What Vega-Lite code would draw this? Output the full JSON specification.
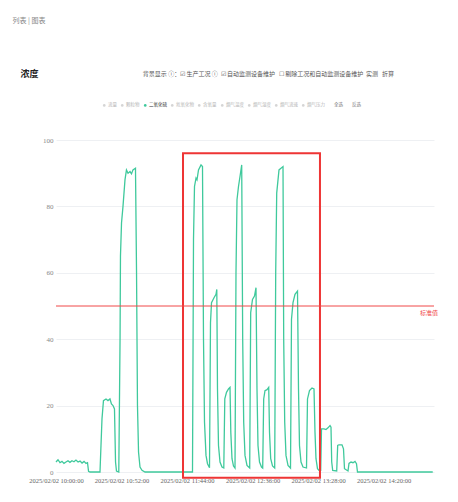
{
  "$schema": "https://vega.github.io/schema/vega-lite/v6.json",
  "width": 378,
  "height": 332,
  "autosize": {"type": "none"},
  "padding": {"left": 56, "top": 140, "right": 24, "bottom": 30},
  "background": "white",
  "config": {"view": {"stroke": null}, "font": "Noto Sans CJK SC"},
  "title": {
    "text": "背景显示 ⓘ：☑ 生产工况 ⓘ\u00a0\u00a0☑ 自动监测设备维护\u00a0\u00a0\u00a0☐ 剔除工况和自动监测设备维护\u00a0\u00a0实测\u00a0\u00a0\u00a0折算",
    "anchor": "end",
    "frame": "group",
    "fontSize": 6,
    "fontWeight": "normal",
    "color": "#555",
    "dx": -40,
    "offset": 50,
    "dy": 111
  },
  "datasets": {
    "series": [
      {"t": "2025-02-02T10:00:00", "v": 3.0, "s": "二氧化硫"},
      {"t": "2025-02-02T10:01:35", "v": 3.7, "s": "二氧化硫"},
      {"t": "2025-02-02T10:03:10", "v": 2.8, "s": "二氧化硫"},
      {"t": "2025-02-02T10:04:45", "v": 3.2, "s": "二氧化硫"},
      {"t": "2025-02-02T10:06:20", "v": 2.6, "s": "二氧化硫"},
      {"t": "2025-02-02T10:07:55", "v": 3.0, "s": "二氧化硫"},
      {"t": "2025-02-02T10:09:30", "v": 3.4, "s": "二氧化硫"},
      {"t": "2025-02-02T10:11:05", "v": 2.9, "s": "二氧化硫"},
      {"t": "2025-02-02T10:12:40", "v": 3.4, "s": "二氧化硫"},
      {"t": "2025-02-02T10:14:15", "v": 3.1, "s": "二氧化硫"},
      {"t": "2025-02-02T10:15:50", "v": 3.6, "s": "二氧化硫"},
      {"t": "2025-02-02T10:17:30", "v": 3.0, "s": "二氧化硫"},
      {"t": "2025-02-02T10:19:05", "v": 3.3, "s": "二氧化硫"},
      {"t": "2025-02-02T10:20:40", "v": 2.7, "s": "二氧化硫"},
      {"t": "2025-02-02T10:22:15", "v": 3.2, "s": "二氧化硫"},
      {"t": "2025-02-02T10:23:50", "v": 2.6, "s": "二氧化硫"},
      {"t": "2025-02-02T10:25:00", "v": 2.8, "s": "二氧化硫"},
      {"t": "2025-02-02T10:25:50", "v": 0.2, "s": "二氧化硫"},
      {"t": "2025-02-02T10:27:00", "v": 0, "s": "二氧化硫"},
      {"t": "2025-02-02T10:34:55", "v": 0, "s": "二氧化硫"},
      {"t": "2025-02-02T10:36:30", "v": 16, "s": "二氧化硫"},
      {"t": "2025-02-02T10:37:40", "v": 21.5, "s": "二氧化硫"},
      {"t": "2025-02-02T10:39:40", "v": 22, "s": "二氧化硫"},
      {"t": "2025-02-02T10:41:15", "v": 21.5, "s": "二氧化硫"},
      {"t": "2025-02-02T10:42:50", "v": 22, "s": "二氧化硫"},
      {"t": "2025-02-02T10:44:00", "v": 20.5, "s": "二氧化硫"},
      {"t": "2025-02-02T10:45:15", "v": 20, "s": "二氧化硫"},
      {"t": "2025-02-02T10:46:25", "v": 19, "s": "二氧化硫"},
      {"t": "2025-02-02T10:47:15", "v": 3, "s": "二氧化硫"},
      {"t": "2025-02-02T10:48:00", "v": 0.3, "s": "二氧化硫"},
      {"t": "2025-02-02T10:49:50", "v": 0, "s": "二氧化硫"},
      {"t": "2025-02-02T10:50:50", "v": 40, "s": "二氧化硫"},
      {"t": "2025-02-02T10:51:10", "v": 65, "s": "二氧化硫"},
      {"t": "2025-02-02T10:52:00", "v": 75, "s": "二氧化硫"},
      {"t": "2025-02-02T10:53:10", "v": 80, "s": "二氧化硫"},
      {"t": "2025-02-02T10:54:45", "v": 88, "s": "二氧化硫"},
      {"t": "2025-02-02T10:55:55", "v": 91, "s": "二氧化硫"},
      {"t": "2025-02-02T10:57:10", "v": 90, "s": "二氧化硫"},
      {"t": "2025-02-02T10:58:45", "v": 90.5, "s": "二氧化硫"},
      {"t": "2025-02-02T10:59:55", "v": 89.8, "s": "二氧化硫"},
      {"t": "2025-02-02T11:01:05", "v": 91, "s": "二氧化硫"},
      {"t": "2025-02-02T11:03:05", "v": 91.5, "s": "二氧化硫"},
      {"t": "2025-02-02T11:03:55", "v": 60, "s": "二氧化硫"},
      {"t": "2025-02-02T11:04:40", "v": 20, "s": "二氧化硫"},
      {"t": "2025-02-02T11:05:30", "v": 6, "s": "二氧化硫"},
      {"t": "2025-02-02T11:06:40", "v": 1.5, "s": "二氧化硫"},
      {"t": "2025-02-02T11:08:15", "v": 0.5, "s": "二氧化硫"},
      {"t": "2025-02-02T11:10:40", "v": 0, "s": "二氧化硫"},
      {"t": "2025-02-02T11:48:20", "v": 0, "s": "二氧化硫"},
      {"t": "2025-02-02T11:49:08", "v": 70, "s": "二氧化硫"},
      {"t": "2025-02-02T11:49:55", "v": 86, "s": "二氧化硫"},
      {"t": "2025-02-02T11:51:07", "v": 88.5, "s": "二氧化硫"},
      {"t": "2025-02-02T11:51:54", "v": 88, "s": "二氧化硫"},
      {"t": "2025-02-02T11:53:06", "v": 91, "s": "二氧化硫"},
      {"t": "2025-02-02T11:55:05", "v": 92.5, "s": "二氧化硫"},
      {"t": "2025-02-02T11:56:16", "v": 92, "s": "二氧化硫"},
      {"t": "2025-02-02T11:57:04", "v": 40, "s": "二氧化硫"},
      {"t": "2025-02-02T11:57:52", "v": 15, "s": "二氧化硫"},
      {"t": "2025-02-02T11:59:03", "v": 5, "s": "二氧化硫"},
      {"t": "2025-02-02T12:00:14", "v": 2.5, "s": "二氧化硫"},
      {"t": "2025-02-02T12:01:50", "v": 1.3, "s": "二氧化硫"},
      {"t": "2025-02-02T12:02:37", "v": 45, "s": "二氧化硫"},
      {"t": "2025-02-02T12:03:25", "v": 51, "s": "二氧化硫"},
      {"t": "2025-02-02T12:05:24", "v": 52.5, "s": "二氧化硫"},
      {"t": "2025-02-02T12:06:59", "v": 53.5, "s": "二氧化硫"},
      {"t": "2025-02-02T12:07:37", "v": 55, "s": "二氧化硫"},
      {"t": "2025-02-02T12:08:10", "v": 25, "s": "二氧化硫"},
      {"t": "2025-02-02T12:08:58", "v": 8, "s": "二氧化硫"},
      {"t": "2025-02-02T12:10:10", "v": 3, "s": "二氧化硫"},
      {"t": "2025-02-02T12:11:45", "v": 1.5, "s": "二氧化硫"},
      {"t": "2025-02-02T12:13:10", "v": 1.2, "s": "二氧化硫"},
      {"t": "2025-02-02T12:13:58", "v": 22, "s": "二氧化硫"},
      {"t": "2025-02-02T12:15:19", "v": 24, "s": "二氧化硫"},
      {"t": "2025-02-02T12:16:54", "v": 25, "s": "二氧化硫"},
      {"t": "2025-02-02T12:18:06", "v": 25.5, "s": "二氧化硫"},
      {"t": "2025-02-02T12:18:44", "v": 12, "s": "二氧化硫"},
      {"t": "2025-02-02T12:19:41", "v": 4, "s": "二氧化硫"},
      {"t": "2025-02-02T12:20:52", "v": 1.8, "s": "二氧化硫"},
      {"t": "2025-02-02T12:22:04", "v": 1.2, "s": "二氧化硫"},
      {"t": "2025-02-02T12:22:51", "v": 60, "s": "二氧化硫"},
      {"t": "2025-02-02T12:23:39", "v": 82, "s": "二氧化硫"},
      {"t": "2025-02-02T12:24:50", "v": 86, "s": "二氧化硫"},
      {"t": "2025-02-02T12:26:02", "v": 89, "s": "二氧化硫"},
      {"t": "2025-02-02T12:27:23", "v": 92.5, "s": "二氧化硫"},
      {"t": "2025-02-02T12:28:10", "v": 40, "s": "二氧化硫"},
      {"t": "2025-02-02T12:28:58", "v": 15, "s": "二氧化硫"},
      {"t": "2025-02-02T12:30:00", "v": 5, "s": "二氧化硫"},
      {"t": "2025-02-02T12:31:35", "v": 2, "s": "二氧化硫"},
      {"t": "2025-02-02T12:33:44", "v": 1.2, "s": "二氧化硫"},
      {"t": "2025-02-02T12:34:31", "v": 48, "s": "二氧化硫"},
      {"t": "2025-02-02T12:35:57", "v": 52, "s": "二氧化硫"},
      {"t": "2025-02-02T12:37:32", "v": 53, "s": "二氧化硫"},
      {"t": "2025-02-02T12:38:44", "v": 55.5, "s": "二氧化硫"},
      {"t": "2025-02-02T12:39:31", "v": 25, "s": "二氧化硫"},
      {"t": "2025-02-02T12:40:19", "v": 8, "s": "二氧化硫"},
      {"t": "2025-02-02T12:41:31", "v": 3, "s": "二氧化硫"},
      {"t": "2025-02-02T12:43:06", "v": 1.5, "s": "二氧化硫"},
      {"t": "2025-02-02T12:44:03", "v": 1.2, "s": "二氧化硫"},
      {"t": "2025-02-02T12:44:50", "v": 22, "s": "二氧化硫"},
      {"t": "2025-02-02T12:45:52", "v": 24.5, "s": "二氧化硫"},
      {"t": "2025-02-02T12:47:28", "v": 24.8, "s": "二氧化硫"},
      {"t": "2025-02-02T12:48:49", "v": 25.5, "s": "二氧化硫"},
      {"t": "2025-02-02T12:49:27", "v": 12, "s": "二氧化硫"},
      {"t": "2025-02-02T12:50:24", "v": 4, "s": "二氧化硫"},
      {"t": "2025-02-02T12:51:50", "v": 1.8, "s": "二氧化硫"},
      {"t": "2025-02-02T12:53:34", "v": 1.2, "s": "二氧化硫"},
      {"t": "2025-02-02T12:54:22", "v": 60, "s": "二氧化硫"},
      {"t": "2025-02-02T12:55:10", "v": 84, "s": "二氧化硫"},
      {"t": "2025-02-02T12:56:59", "v": 91, "s": "二氧化硫"},
      {"t": "2025-02-02T12:58:34", "v": 91.5, "s": "二氧化硫"},
      {"t": "2025-02-02T13:00:10", "v": 92, "s": "二氧化硫"},
      {"t": "2025-02-02T13:00:43", "v": 40, "s": "二氧化硫"},
      {"t": "2025-02-02T13:01:31", "v": 15, "s": "二氧化硫"},
      {"t": "2025-02-02T13:02:32", "v": 5, "s": "二氧化硫"},
      {"t": "2025-02-02T13:04:08", "v": 2, "s": "二氧化硫"},
      {"t": "2025-02-02T13:06:07", "v": 1.2, "s": "二氧化硫"},
      {"t": "2025-02-02T13:06:54", "v": 46, "s": "二氧化硫"},
      {"t": "2025-02-02T13:08:06", "v": 51, "s": "二氧化硫"},
      {"t": "2025-02-02T13:09:41", "v": 53.5, "s": "二氧化硫"},
      {"t": "2025-02-02T13:11:40", "v": 54.5, "s": "二氧化硫"},
      {"t": "2025-02-02T13:12:28", "v": 25, "s": "二氧化硫"},
      {"t": "2025-02-02T13:13:15", "v": 8, "s": "二氧化硫"},
      {"t": "2025-02-02T13:14:27", "v": 3, "s": "二氧化硫"},
      {"t": "2025-02-02T13:16:02", "v": 1.5, "s": "二氧化硫"},
      {"t": "2025-02-02T13:18:49", "v": 1.2, "s": "二氧化硫"},
      {"t": "2025-02-02T13:19:36", "v": 22, "s": "二氧化硫"},
      {"t": "2025-02-02T13:21:11", "v": 24.5, "s": "二氧化硫"},
      {"t": "2025-02-02T13:23:10", "v": 25.3, "s": "二氧化硫"},
      {"t": "2025-02-02T13:24:46", "v": 25, "s": "二氧化硫"},
      {"t": "2025-02-02T13:25:33", "v": 12, "s": "二氧化硫"},
      {"t": "2025-02-02T13:26:21", "v": 4, "s": "二氧化硫"},
      {"t": "2025-02-02T13:27:32", "v": 1, "s": "二氧化硫"},
      {"t": "2025-02-02T13:28:44", "v": 0.5, "s": "二氧化硫"},
      {"t": "2025-02-02T13:30:05", "v": 0.5, "s": "二氧化硫"},
      {"t": "2025-02-02T13:30:43", "v": 13, "s": "二氧化硫"},
      {"t": "2025-02-02T13:32:42", "v": 13, "s": "二氧化硫"},
      {"t": "2025-02-02T13:34:17", "v": 12.8, "s": "二氧化硫"},
      {"t": "2025-02-02T13:35:52", "v": 13.3, "s": "二氧化硫"},
      {"t": "2025-02-02T13:37:28", "v": 14, "s": "二氧化硫"},
      {"t": "2025-02-02T13:38:15", "v": 13.5, "s": "二氧化硫"},
      {"t": "2025-02-02T13:38:49", "v": 3, "s": "二氧化硫"},
      {"t": "2025-02-02T13:39:36", "v": 0.5, "s": "二氧化硫"},
      {"t": "2025-02-02T13:42:47", "v": 0.3, "s": "二氧化硫"},
      {"t": "2025-02-02T13:43:34", "v": 8, "s": "二氧化硫"},
      {"t": "2025-02-02T13:44:36", "v": 8.2, "s": "二氧化硫"},
      {"t": "2025-02-02T13:46:59", "v": 8.2, "s": "二氧化硫"},
      {"t": "2025-02-02T13:48:10", "v": 7, "s": "二氧化硫"},
      {"t": "2025-02-02T13:48:58", "v": 1, "s": "二氧化硫"},
      {"t": "2025-02-02T13:51:45", "v": 0.3, "s": "二氧化硫"},
      {"t": "2025-02-02T13:52:32", "v": 2.6, "s": "二氧化硫"},
      {"t": "2025-02-02T13:54:08", "v": 3, "s": "二氧化硫"},
      {"t": "2025-02-02T13:55:43", "v": 2.8, "s": "二氧化硫"},
      {"t": "2025-02-02T13:57:18", "v": 3.2, "s": "二氧化硫"},
      {"t": "2025-02-02T13:58:29", "v": 2.5, "s": "二氧化硫"},
      {"t": "2025-02-02T13:59:17", "v": 0, "s": "二氧化硫"},
      {"t": "2025-02-02T14:59:00", "v": 0, "s": "二氧化硫"}
    ],
    "box": [
      {"t1": "2025-02-02T11:40:48", "t2": "2025-02-02T13:29:30", "v1": 96, "v2": -1.7}
    ],
    "limit": [
      {"t": "2025-02-02T15:00:00", "v": 50, "label": "标准值"}
    ]
  },
  "layer": [
    {
      "data": {"name": "series"},
      "mark": {"type": "line", "strokeWidth": 1.3, "interpolate": "linear"},
      "encoding": {
        "x": {
          "field": "t",
          "type": "temporal",
          "scale": {
            "domain": [
              {"year": 2025, "month": 2, "date": 2, "hours": 10, "minutes": 0},
              {"year": 2025, "month": 2, "date": 2, "hours": 15, "minutes": 0}
            ]
          },
          "axis": {
            "values": [
              {"year": 2025, "month": 2, "date": 2, "hours": 10, "minutes": 0},
              {"year": 2025, "month": 2, "date": 2, "hours": 10, "minutes": 52},
              {"year": 2025, "month": 2, "date": 2, "hours": 11, "minutes": 44},
              {"year": 2025, "month": 2, "date": 2, "hours": 12, "minutes": 36},
              {"year": 2025, "month": 2, "date": 2, "hours": 13, "minutes": 28},
              {"year": 2025, "month": 2, "date": 2, "hours": 14, "minutes": 20}
            ],
            "format": "%Y/%m/%d %H:%M:%S",
            "labelFont": "Liberation Sans Narrow",
            "labelFontSize": 6.5,
            "labelColor": "#666",
            "labelPadding": 5,
            "labelOverlap": false,
            "labelFlush": false,
            "grid": false,
            "ticks": false,
            "domain": false,
            "title": "列表  |  图表",
            "titleFontSize": 7,
            "titleFontWeight": "normal",
            "titleColor": "#888",
            "titleX": -44,
            "titleY": -452,
            "titleAlign": "left",
            "titleBaseline": "middle",
            "titleAnchor": null
          }
        },
        "y": {
          "field": "v",
          "type": "quantitative",
          "scale": {"domain": [0, 100], "nice": false},
          "axis": {
            "values": [0, 20, 40, 60, 80, 100],
            "gridColor": "#eef0f3",
            "domain": false,
            "ticks": false,
            "labelFontSize": 7,
            "labelColor": "#888",
            "labelPadding": 3,
            "labelFont": "Liberation Sans Narrow",
            "title": "浓度",
            "titleAngle": 0,
            "titleFontSize": 9,
            "titleFontWeight": "bold",
            "titleColor": "#222",
            "titleX": -36,
            "titleY": -67,
            "titleAlign": "left",
            "titleBaseline": "middle"
          }
        },
        "color": {
          "field": "s",
          "type": "nominal",
          "scale": {
            "domain": ["流量", "颗粒物", "二氧化硫", "氮氧化物", "含氧量", "烟气温度", "烟气湿度", "烟气流速", "烟气压力", "全选", "反选"],
            "range": ["#d5d5d5", "#d5d5d5", "#3fc99c", "#d5d5d5", "#d5d5d5", "#d5d5d5", "#d5d5d5", "#d5d5d5", "#d5d5d5", "#ffffff", "#ffffff"]
          },
          "legend": {
            "orient": "none",
            "legendX": 46,
            "legendY": -37,
            "direction": "horizontal",
            "title": null,
            "symbolType": "circle",
            "symbolSize": 7,
            "symbolStrokeWidth": 0,
            "labelFontSize": 4.5,
            "labelOffset": 1.5,
            "columnPadding": 3,
            "labelColor": "#aaa",
            "encode": {
              "symbols": {"update": {"fill": {"scale": "color", "field": "value"}, "stroke": {"value": "transparent"}}},
              "labels": {"update": {"fill": {"signal": "datum.value === '二氧化硫' ? '#333' : (datum.value === '全选' || datum.value === '反选' ? '#777' : '#b5b5b5')"}}}
            }
          }
        }
      }
    },
    {
      "data": {"name": "box"},
      "mark": {"type": "rect", "filled": false, "stroke": "#ee3535", "strokeWidth": 2},
      "encoding": {
        "x": {"field": "t1", "type": "temporal"},
        "x2": {"field": "t2"},
        "y": {"field": "v1", "type": "quantitative"},
        "y2": {"field": "v2"}
      }
    },
    {
      "data": {"name": "limit"},
      "mark": {"type": "rule", "stroke": "#f04848", "strokeWidth": 1},
      "encoding": {
        "y": {"field": "v", "type": "quantitative"}
      }
    },
    {
      "data": {"name": "limit"},
      "mark": {"type": "text", "align": "right", "baseline": "top", "dx": 4, "dy": 4, "fontSize": 6, "color": "#f04848"},
      "encoding": {
        "x": {"field": "t", "type": "temporal"},
        "y": {"field": "v", "type": "quantitative"},
        "text": {"field": "label"}
      }
    }
  ]
}
